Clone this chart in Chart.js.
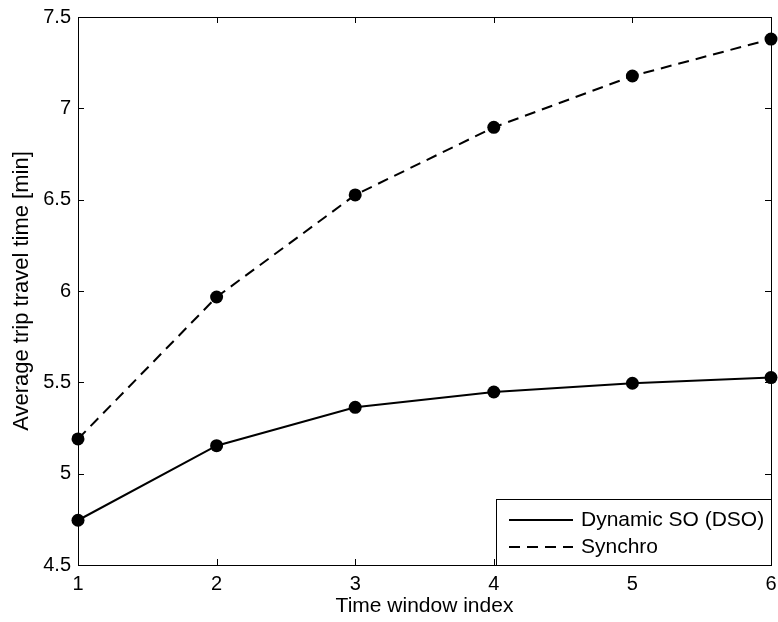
<!DOCTYPE html>
<html lang="en">
<head>
  <meta charset="UTF-8">
  <title>Average trip travel time</title>
  <script src="https://cdn.jsdelivr.net/npm/chart.js"></script>
  <style>
    html, body { margin: 0; padding: 0; background: #fff; }
    #wrap { width: 778px; height: 622px; }
  </style>
</head>
<body>
  <div id="wrap"><canvas id="travelChart" width="778" height="622"></canvas></div>

  <script>
    // data
    const timeWindows = [1, 2, 3, 4, 5, 6];
    const dsoTimes = [4.745, 5.153, 5.363, 5.447, 5.495, 5.526];
    const synchroTimes = [5.19, 5.967, 6.526, 6.896, 7.177, 7.379];
    const seriesNames = ['Dynamic SO (DSO)', 'Synchro'];

    const FONT = 'Liberation Sans, Arial, Helvetica, sans-serif';

    // MATLAB style box: full frame plus inward ticks on all four sides
    const boxAxes = {
      id: 'boxAxes',
      afterDatasetsDraw(chart) {
        const { ctx, chartArea: a, scales: { x, y } } = chart;
        const len = 6;
        ctx.save();
        ctx.strokeStyle = '#000';
        ctx.lineWidth = 1;
        ctx.strokeRect(a.left + 0.5, a.top + 0.5, a.right - a.left, a.bottom - a.top);
        ctx.beginPath();
        x.ticks.forEach(t => {
          const px = Math.round(x.getPixelForValue(t.value)) + 0.5;
          ctx.moveTo(px, a.bottom); ctx.lineTo(px, a.bottom - len);
          ctx.moveTo(px, a.top); ctx.lineTo(px, a.top + len);
        });
        y.ticks.forEach(t => {
          const py = Math.round(y.getPixelForValue(t.value)) + 0.5;
          ctx.moveTo(a.left, py); ctx.lineTo(a.left + len, py);
          ctx.moveTo(a.right, py); ctx.lineTo(a.right - len, py);
        });
        ctx.stroke();
        ctx.restore();
      }
    };

    // legend box in the lower right corner of the axes
    const boxLegend = {
      id: 'boxLegend',
      afterDraw(chart) {
        const { ctx, chartArea: a } = chart;
        const w = 275, h = 66;
        const left = a.right - w, top = a.bottom - h;
        ctx.save();
        ctx.fillStyle = '#fff';
        ctx.fillRect(left, top, w, h);
        ctx.strokeStyle = '#000';
        ctx.lineWidth = 1;
        ctx.strokeRect(left + 0.5, top + 0.5, w, h);
        ctx.font = '21px ' + FONT;
        ctx.textBaseline = 'middle';
        ctx.fillStyle = '#000';
        chart.data.datasets.forEach((ds, i) => {
          const cy = top + 21 + i * 27;
          ctx.beginPath();
          ctx.setLineDash(ds.borderDash || []);
          ctx.lineWidth = ds.borderWidth;
          ctx.moveTo(left + 13, cy);
          ctx.lineTo(left + 77, cy);
          ctx.stroke();
          ctx.setLineDash([]);
          ctx.fillText(ds.label, left + 85, cy);
        });
        ctx.restore();
      }
    };

    const ctx = document.getElementById('travelChart').getContext('2d');
    new Chart(ctx, {
      type: 'line',
      data: {
        datasets: [
          {
            label: seriesNames[0],
            data: timeWindows.map((t, i) => ({ x: t, y: dsoTimes[i] })),
            borderColor: '#000',
            backgroundColor: '#000',
            borderWidth: 2,
            pointRadius: 6.5,
            pointBackgroundColor: '#000',
            pointBorderWidth: 0,
            tension: 0,
            clip: false
          },
          {
            label: seriesNames[1],
            data: timeWindows.map((t, i) => ({ x: t, y: synchroTimes[i] })),
            borderColor: '#000',
            backgroundColor: '#000',
            borderWidth: 2,
            borderDash: [11, 7],
            pointRadius: 6.5,
            pointBackgroundColor: '#000',
            pointBorderWidth: 0,
            tension: 0,
            clip: false
          }
        ]
      },
      options: {
        responsive: false,
        animation: false,
        layout: { padding: { left: 0, top: 17, right: 7, bottom: 0 } },
        plugins: {
          legend: { display: false },
          tooltip: { enabled: false }
        },
        scales: {
          x: {
            type: 'linear',
            min: 1,
            max: 6,
            grid: { display: false, drawTicks: false },
            border: { display: false },
            ticks: { stepSize: 1, color: '#000', padding: 7, font: { family: FONT, size: 20 } },
            title: {
              display: true,
              text: 'Time window index',
              color: '#000',
              font: { family: FONT, size: 21 },
              padding: { top: 0, bottom: 3 }
            },
            afterFit(scale) {
              scale.height = 57;
              scale.paddingLeft = 0;
              scale.paddingRight = 0;
            }
          },
          y: {
            min: 4.5,
            max: 7.5,
            grid: { display: false, drawTicks: false },
            border: { display: false },
            ticks: {
              stepSize: 0.5,
              color: '#000',
              padding: 7,
              font: { family: FONT, size: 20 },
              callback: v => String(v)
            },
            title: {
              display: true,
              text: 'Average trip travel time [min]',
              color: '#000',
              font: { family: FONT, size: 22 },
              padding: { top: 9, bottom: 0 }
            },
            afterFit(scale) {
              scale.width = 78;
              scale.paddingTop = 0;
              scale.paddingBottom = 0;
            }
          }
        }
      },
      plugins: [boxAxes, boxLegend]
    });
  </script>
</body>
</html>
